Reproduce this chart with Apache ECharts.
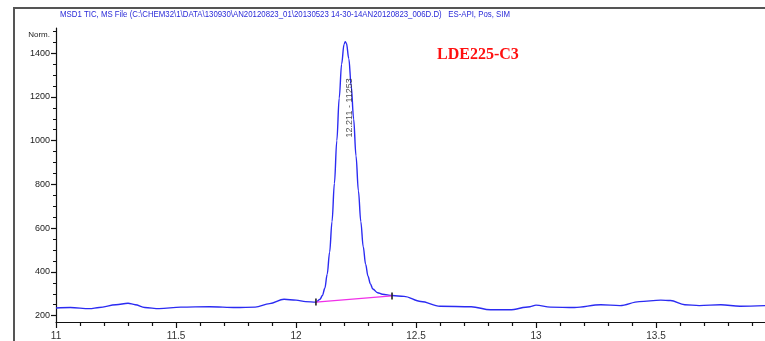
<!DOCTYPE html>
<html><head><meta charset="utf-8">
<script src="https://cdn.jsdelivr.net/npm/echarts@6/dist/echarts.min.js"></script>
<style>html,body{margin:0;padding:0;background:#fff;}#c{width:765px;height:341px;}</style>
</head><body><div id="c"></div>
<script>
// Retention time (min) and signal (Norm.)
const times = [11.00,11.06,11.14,11.18,11.25,11.30,11.33,11.37,11.43,11.52,11.64,11.75,11.83,11.89,11.95,12.00,12.04,12.083,12.10,12.11,12.12,12.13,12.14,12.15,12.16,12.17,12.18,12.19,12.20,12.205,12.21,12.22,12.23,12.24,12.25,12.26,12.27,12.28,12.29,12.30,12.31,12.32,12.34,12.36,12.40,12.45,12.52,12.60,12.73,12.81,12.89,12.975,13.00,13.06,13.16,13.27,13.35,13.43,13.52,13.56,13.62,13.68,13.77,13.85,13.954];
const signal = [235,237,232,237,250,257,250,237,232,239,241,237,239,255,275,271,264,262,275,292,325,390,490,630,805,1000,1195,1350,1440,1452,1445,1375,1250,1100,930,770,630,515,435,380,345,322,305,298,292,288,265,243,241,227,227,241,248,239,237,250,246,264,271,269,250,246,250,243,246];
// Integration baseline (start, end)
const baseTimes = [12.083, 12.40];
const baseSignal = [262, 290];
// Axis ticks
const xLabelTicks = [11, 11.5, 12, 12.5, 13, 13.5];
const xMinorTicks = [11.1,11.2,11.3,11.4,11.6,11.7,11.8,11.9,12.1,12.2,12.3,12.4,12.6,12.7,12.8,12.9,13.1,13.2,13.3,13.4,13.6,13.7,13.8,13.9];
const yLabelTicks = [200, 400, 600, 800, 1000, 1200, 1400];
const yMinorTicks = [250,300,350,450,500,550,650,700,750,850,900,950,1050,1100,1150,1250,1300,1350,1450,1500];
// Texts
const titleText = 'MSD1 TIC, MS File (C:\\CHEM32\\1\\DATA\\130930\\AN20120823_01\\20130523 14-30-14AN20120823_006D.D)   ES-API, Pos, SIM';
const sampleName = 'LDE225-C3';
const peakLabel = '12.211 - 11253';
const peakLabelPos = [12.224, 1150];

const chart = echarts.init(document.getElementById('c'), null, {renderer: 'canvas'});
const cv = document.createElement('canvas').getContext('2d');
cv.font = '9px "Liberation Sans"';
const tw = cv.measureText(titleText).width;
const titleScale = 450 / tw;

const X0 = 11, X1 = 13.954, Y0 = 171, Y1 = 1515;
const xAxisBase = {type: 'value', min: X0, max: X1, gridIndex: 0};
const yAxisBase = {type: 'value', min: Y0, max: Y1, gridIndex: 0};

chart.setOption({
  animation: false,
  grid: {left: 56, right: 0, top: 28, bottom: 18, containLabel: false},
  xAxis: [
    Object.assign({}, xAxisBase, {
      axisLine: {lineStyle: {color: '#111', width: 1.2}},
      axisTick: {customValues: xLabelTicks, length: 6, lineStyle: {color: '#111', width: 1.2}},
      axisLabel: {customValues: xLabelTicks, color: '#333', fontSize: 10, fontFamily: 'Liberation Sans', margin: 9,
        formatter: v => String(v)},
      splitLine: {show: false}
    }),
    Object.assign({}, xAxisBase, {
      position: 'bottom',
      axisLine: {show: false},
      axisTick: {customValues: xMinorTicks, length: 4, lineStyle: {color: '#111', width: 1.2}},
      axisLabel: {show: false},
      splitLine: {show: false}
    })
  ],
  yAxis: [
    Object.assign({}, yAxisBase, {
      name: 'Norm.', nameLocation: 'end', nameGap: -7,
      nameTextStyle: {color: '#222', fontSize: 8, fontFamily: 'Liberation Sans', align: 'right', padding: [0, 6, 0, 0], verticalAlign: 'middle'},
      axisLine: {lineStyle: {color: '#111', width: 1.2}},
      axisTick: {customValues: yLabelTicks, length: 5, lineStyle: {color: '#111', width: 1.2}},
      axisLabel: {customValues: yLabelTicks, color: '#222', fontSize: 9, fontFamily: 'Liberation Sans', margin: 6,
        formatter: v => String(v)},
      splitLine: {show: false}
    }),
    Object.assign({}, yAxisBase, {
      position: 'left',
      axisLine: {show: false},
      axisTick: {customValues: yMinorTicks, length: 3, lineStyle: {color: '#111', width: 1}},
      axisLabel: {show: false},
      splitLine: {show: false}
    })
  ],
  series: [
    {
      type: 'line', xAxisIndex: 0, yAxisIndex: 0,
      data: times.map((t, i) => [t, signal[i]]),
      showSymbol: false, smooth: 0.35, smoothMonotone: 'x',
      lineStyle: {color: '#2b2bf2', width: 1.4},
      z: 3
    },
    {
      type: 'line', xAxisIndex: 0, yAxisIndex: 0,
      data: baseTimes.map((t, i) => [t, baseSignal[i]]),
      showSymbol: true, symbol: 'rect', symbolSize: [1.6, 7],
      itemStyle: {color: '#222'},
      lineStyle: {color: '#f030e8', width: 1.3},
      z: 4
    },
    {
      type: 'scatter', xAxisIndex: 0, yAxisIndex: 0,
      data: [peakLabelPos], symbolSize: 0,
      label: {show: true, formatter: peakLabel, rotate: 90, position: 'inside',
        color: '#222', fontSize: 9, fontFamily: 'Liberation Sans'},
      z: 5, silent: true
    }
  ],
  graphic: [
    {type: 'rect', shape: {x: 13, y: 7, width: 800, height: 2}, style: {fill: '#555'}, silent: true},
    {type: 'rect', shape: {x: 13, y: 7, width: 2, height: 400}, style: {fill: '#555'}, silent: true},
    {type: 'text', x: 60, y: 15, scaleX: titleScale, style: {text: titleText, font: '9px "Liberation Sans"', fill: '#2a2ad8', verticalAlign: 'middle'}, silent: true},
    {type: 'text', x: 437, y: 55, style: {text: sampleName, font: 'bold 16px "Liberation Serif"', fill: '#ff1010', verticalAlign: 'middle'}, silent: true}
  ]
});
</script>
</body></html>
